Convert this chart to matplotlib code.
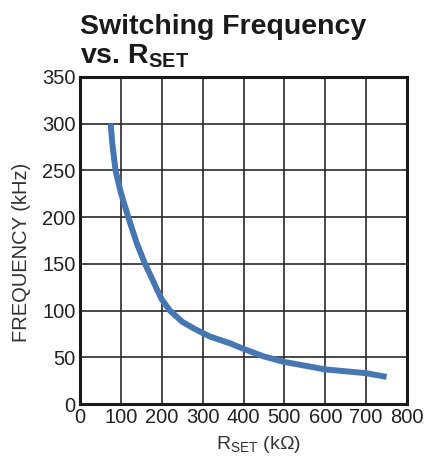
import matplotlib
matplotlib.use("Agg")
import matplotlib.pyplot as plt

rset_kohm = [75, 79, 87, 100, 118, 139, 159, 171, 188, 200, 220, 250, 278, 300, 319, 367, 400, 449, 500, 600, 700, 750]
freq_khz = [300, 279, 250, 226, 200, 172, 150, 139, 123, 112, 100, 88, 81, 76, 72, 65, 59, 51, 45, 37, 33, 29]
x_ticks = [0, 100, 200, 300, 400, 500, 600, 700, 800]
y_ticks = [0, 50, 100, 150, 200, 250, 300, 350]

plt.rcParams['font.family'] = ['Liberation Sans', 'DejaVu Sans']
plt.rcParams['mathtext.fontset'] = 'custom'
plt.rcParams['mathtext.rm'] = 'Liberation Sans'

fig = plt.figure(figsize=(4.28, 4.66), dpi=100)
ax = fig.add_axes([80/428, 1-404/466, (407-80)/428, (404-77)/466])

ax.plot(rset_kohm, freq_khz, color='#4777b3', lw=4.3, solid_capstyle='butt',
        solid_joinstyle='round', zorder=3)

ax.set_xlim(0, 800)
ax.set_ylim(0, 350)
ax.set_xticks(x_ticks)
ax.set_yticks(y_ticks)
ax.grid(True, color='#2a2a2a', lw=1.2)
ax.set_axisbelow(True)
for s in ax.spines.values():
    s.set_linewidth(2.2)
    s.set_color('#1a1a1a')
ax.tick_params(length=0, labelsize=14.5, colors='#222222', pad=3)

ax.set_ylabel('FREQUENCY (kHz)', fontsize=14.5, color='#333333')
ax.yaxis.set_label_coords(-0.15, 0.465)
ax.set_xlabel(r'R$_\mathregular{SET}$ (kΩ)', fontsize=14, color='#333333')
ax.xaxis.set_label_coords(0.546, -0.093)

fig.text(80/428, 1-34/466, 'Switching Frequency', fontsize=20.5, fontweight='bold',
         color='#1a1a1a', ha='left', va='baseline')
fig.text(80/428, 1-63/466, r'vs. R$_\mathregular{SET}$', fontsize=20.5, fontweight='bold',
         color='#1a1a1a', ha='left', va='baseline')

fig.savefig('out.png', dpi=100)
